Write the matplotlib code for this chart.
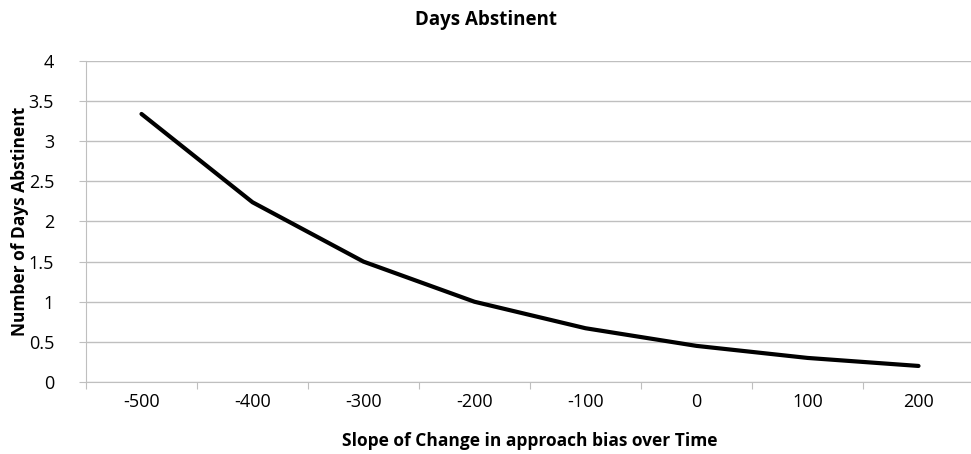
import numpy as np
import matplotlib.pyplot as plt

# values
slopes = ['-500', '-400', '-300', '-200', '-100', '0', '100', '200']
days_abstinent = [3.34, 2.24, 1.50, 1.00, 0.67, 0.45, 0.30, 0.20]
y_ticks = [0, 0.5, 1, 1.5, 2, 2.5, 3, 3.5, 4]
y_tick_labels = ['0', '0.5', '1', '1.5', '2', '2.5', '3', '3.5', '4']

plt.rcParams['font.family'] = ['Open Sans', 'DejaVu Sans']
grid_color = '#bfbfbf'

fig = plt.figure(figsize=(9.71, 4.54), dpi=100)
ax = fig.add_axes([86 / 971, 1 - 382 / 454, 888 / 971, 321 / 454])

x = np.arange(len(slopes))
ax.plot(x, days_abstinent, color='black', linewidth=3, solid_capstyle='round', zorder=3)

ax.set_xlim(-0.5, len(slopes) - 0.5)
ax.set_ylim(0, 4)

# category boundaries carry the tick marks, centres carry the labels
ax.set_xticks(np.arange(len(slopes) + 1) - 0.5)
ax.set_xticklabels([])
ax.set_xticks(x, minor=True)
ax.set_xticklabels(slopes, minor=True, fontsize=13)
ax.tick_params(axis='x', which='major', length=5, color=grid_color, direction='out')
ax.tick_params(axis='x', which='minor', length=0, pad=8)

ax.set_yticks(y_ticks)
ax.set_yticklabels(y_tick_labels, fontsize=13)
ax.tick_params(axis='y', length=5, color=grid_color, direction='out', pad=18)

ax.grid(axis='y', color=grid_color, linewidth=1)
ax.set_axisbelow(True)
for side in ['top', 'right']:
    ax.spines[side].set_visible(False)
for side in ['left', 'bottom']:
    ax.spines[side].set_color(grid_color)

ax.set_ylabel('Number of Days Abstinent', fontsize=12.5, fontweight='bold', va='center')
ax.yaxis.set_label_coords(-66 / 888, 0.5)
ax.set_xlabel('Slope of Change in approach bias over Time', fontsize=12.5,
              fontweight='bold', va='center')
ax.xaxis.set_label_coords(0.5, -59 / 321)
fig.text(0.5, 1 - 20 / 454, 'Days Abstinent', ha='center', va='center',
         fontsize=13.5, fontweight='bold')

fig.savefig('out.png', dpi=100)
